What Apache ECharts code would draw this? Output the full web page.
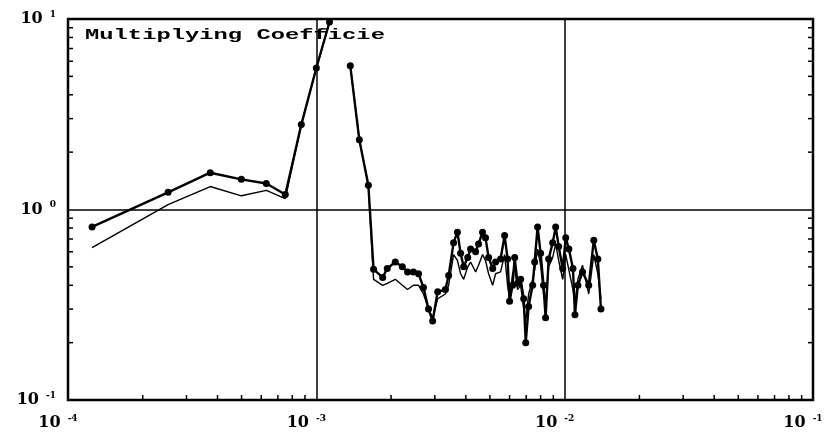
<!DOCTYPE html>
<html>
<head>
<meta charset="utf-8">
<script src="https://cdn.jsdelivr.net/npm/echarts@6/dist/echarts.min.js"></script>
<style>
  html, body { margin: 0; padding: 0; background: #fff; }
  #chart { width: 829px; height: 435px; }
</style>
</head>
<body>
<div id="chart"></div>
<script>
// Frequency of each sample (log axis)
const freq = [
  1.25e-4, 2.53e-4, 3.74e-4, 4.99e-4, 6.29e-4, 7.50e-4, 8.70e-4, 1.00e-3, 1.13e-3, 1.25e-3,
  1.37e-3, 1.49e-3, 1.62e-3, 1.70e-3, 1.85e-3, 1.93e-3, 2.08e-3, 2.22e-3, 2.33e-3, 2.46e-3,
  2.58e-3, 2.70e-3, 2.83e-3, 2.94e-3, 3.08e-3, 3.31e-3, 3.41e-3, 3.57e-3, 3.70e-3, 3.81e-3,
  3.92e-3, 4.07e-3, 4.18e-3, 4.38e-3, 4.50e-3, 4.67e-3, 4.80e-3, 4.94e-3, 5.13e-3, 5.27e-3,
  5.52e-3, 5.73e-3, 5.89e-3, 6.00e-3, 6.17e-3, 6.29e-3, 6.46e-3, 6.65e-3, 6.84e-3, 6.97e-3,
  7.16e-3, 7.43e-3, 7.57e-3, 7.78e-3, 8.00e-3, 8.22e-3, 8.38e-3, 8.62e-3, 8.95e-3, 9.20e-3,
  9.46e-3, 9.82e-3, 1.01e-2, 1.04e-2, 1.08e-2, 1.10e-2, 1.13e-2, 1.18e-2, 1.25e-2, 1.31e-2,
  1.36e-2, 1.40e-2
];

// Coefficient, upper curve (drawn with dots); null = off-scale gap
const coefUpper = [
  0.81, 1.23, 1.56, 1.44, 1.37, 1.20, 2.79, 5.53, 9.64, null,
  5.68, 2.32, 1.34, 0.485, 0.44, 0.49, 0.53, 0.50, 0.47, 0.47,
  0.46, 0.39, 0.30, 0.26, 0.37, 0.38, 0.45, 0.67, 0.76, 0.59,
  0.50, 0.56, 0.62, 0.60, 0.66, 0.76, 0.71, 0.56, 0.49, 0.53,
  0.55, 0.73, 0.55, 0.33, 0.40, 0.56, 0.41, 0.43, 0.34, 0.20,
  0.31, 0.40, 0.53, 0.81, 0.59, 0.40, 0.27, 0.55, 0.67, 0.81,
  0.64, 0.49, 0.71, 0.62, 0.49, 0.28, 0.40, 0.47, 0.40, 0.69,
  0.55, 0.30
];

// Coefficient, lower curve (plain line)
const coefLower = [
  0.63, 1.06, 1.32, 1.18, 1.26, 1.14, 2.79, 5.53, 9.64, null,
  5.68, 2.32, 1.34, 0.43, 0.40, 0.41, 0.43, 0.40, 0.38, 0.40,
  0.40, 0.36, 0.30, 0.27, 0.34, 0.36, 0.40, 0.58, 0.54, 0.46,
  0.43, 0.50, 0.53, 0.47, 0.51, 0.58, 0.54, 0.46, 0.40, 0.46,
  0.47, 0.58, 0.40, 0.34, 0.46, 0.50, 0.38, 0.40, 0.30, 0.26,
  0.36, 0.43, 0.48, 0.62, 0.51, 0.36, 0.32, 0.50, 0.56, 0.66,
  0.54, 0.43, 0.58, 0.48, 0.38, 0.32, 0.43, 0.51, 0.36, 0.58,
  0.46, 0.34
];

const xRange = [1e-4, 1e-1];
const yRange = [1e-1, 1e1];
const titleText = 'Multiplying Coefficie';

// minor tick positions (2..9 within each decade)
function decadeMinors(lo, hi) {
  const out = [];
  for (let k = Math.round(Math.log10(lo)); k < Math.round(Math.log10(hi)); k++) {
    for (let m = 2; m <= 9; m++) out.push(m * Math.pow(10, k));
  }
  return out;
}
const xMinor = decadeMinors(xRange[0], xRange[1]);
const yMinor = decadeMinors(yRange[0], yRange[1]);

function powLabel(v) {
  const e = Math.round(Math.log10(v));
  return '{b|10}{s|' + (e < 0 ? '-' + (-e) : e) + '}';
}
const labelRich = {
  b: { fontFamily: 'DejaVu Serif', fontWeight: 'bold', fontSize: 16, color: '#000', lineHeight: 18 },
  s: { fontFamily: 'DejaVu Serif', fontWeight: 'bold', fontSize: 9, color: '#000', verticalAlign: 'top', padding: [0, 0, 0, 7], lineHeight: 10 }
};

const chart = echarts.init(document.getElementById('chart'), null, { renderer: 'canvas' });

chart.setOption({
  animation: false,
  backgroundColor: '#fff',
  grid: {
    left: 68, right: 16, top: 19, bottom: 35,
    show: true, borderColor: '#000', borderWidth: 2.5, backgroundColor: 'transparent'
  },
  xAxis: {
    type: 'log', logBase: 10, min: xRange[0], max: xRange[1],
    axisLine: { show: false },
    axisTick: { show: false },
    splitLine: { show: true, lineStyle: { color: '#000', width: 1.5 } },
    axisLabel: { formatter: powLabel, rich: labelRich, margin: 14, padding: [0, 20, 0, 0] }
  },
  yAxis: {
    type: 'log', logBase: 10, min: yRange[0], max: yRange[1],
    axisLine: { show: false },
    axisTick: { show: false },
    splitLine: { show: true, lineStyle: { color: '#000', width: 1.5 } },
    axisLabel: { formatter: powLabel, rich: labelRich, margin: 12 }
  },
  graphic: [{
    type: 'text',
    x: 85, y: 28,
    scaleX: 1.7, scaleY: 1,
    style: {
      text: titleText,
      font: 'bold 14px "Liberation Mono"',
      fill: '#000',
      textVerticalAlign: 'top'
    }
  }],
  series: [
    {
      // minor ticks on the bottom edge
      type: 'custom', silent: true, clip: false,
      data: xMinor.map(v => [v, yRange[0]]),
      renderItem: (params, api) => {
        const p = api.coord([api.value(0), yRange[0]]);
        return { type: 'line', shape: { x1: p[0], y1: p[1], x2: p[0], y2: p[1] - 5 },
                 style: { stroke: '#000', lineWidth: 1.5 } };
      }
    },
    {
      // minor ticks on the left and right edges
      type: 'custom', silent: true, clip: false,
      data: yMinor.map(v => [xRange[0], v]),
      renderItem: (params, api) => {
        const l = api.coord([xRange[0], api.value(1)]);
        const r = api.coord([xRange[1], api.value(1)]);
        return { type: 'group', children: [
          { type: 'line', shape: { x1: l[0], y1: l[1], x2: l[0] + 5, y2: l[1] }, style: { stroke: '#000', lineWidth: 1.5 } },
          { type: 'line', shape: { x1: r[0], y1: r[1], x2: r[0] - 5, y2: r[1] }, style: { stroke: '#000', lineWidth: 1.5 } }
        ] };
      }
    },
    {
      name: 'lower',
      type: 'line',
      data: freq.map((f, i) => [f, coefLower[i]]),
      connectNulls: false,
      symbol: 'none',
      lineStyle: { color: '#000', width: 1.4 },
      z: 3
    },
    {
      name: 'upper',
      type: 'line',
      data: freq.map((f, i) => [f, coefUpper[i]]),
      connectNulls: false,
      symbol: 'circle', symbolSize: 7,
      itemStyle: { color: '#000' },
      lineStyle: { color: '#000', width: 2.4 },
      z: 4
    }
  ]
});
</script>
</body>
</html>
